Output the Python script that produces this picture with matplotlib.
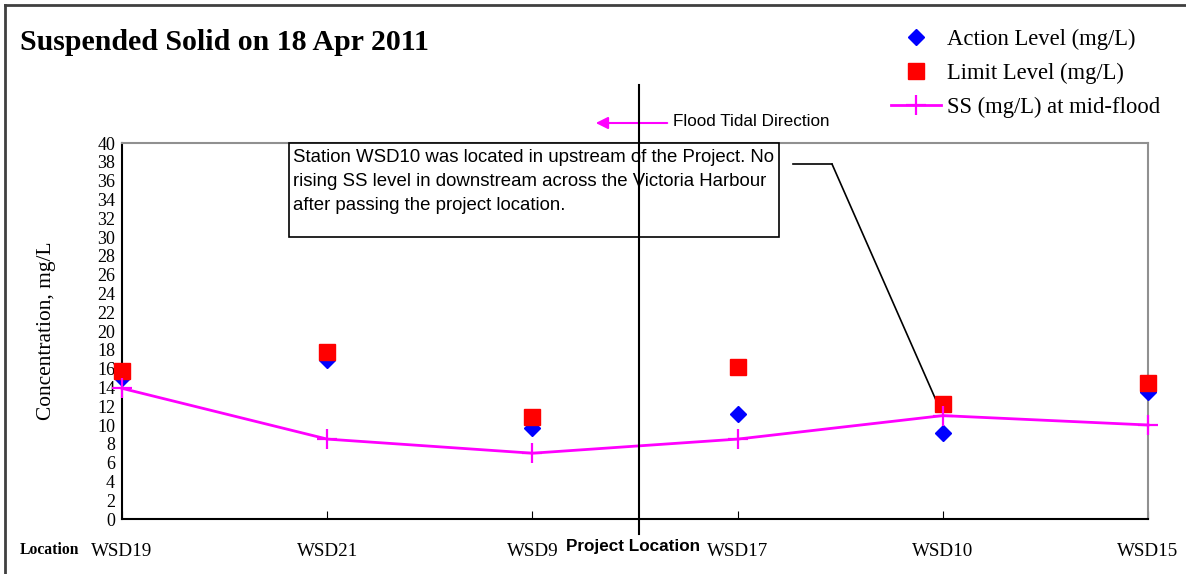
import matplotlib.pyplot as plt
from matplotlib.lines import Line2D
from matplotlib.patches import Rectangle, FancyArrowPatch
import numpy as np

# data
locations = ['WSD19', 'WSD21', 'WSD9', 'WSD17', 'WSD10', 'WSD15']
action_level = [15.0, 16.9, 9.7, 11.2, 9.1, 13.5]
limit_level = [15.7, 17.8, 10.9, 16.2, 12.2, 14.5]
ss_mid_flood = [13.9, 8.5, 7.0, 8.5, 11.0, 10.0]

W, H = 1186, 574
serif = 'Liberation Serif'
sans = 'Liberation Sans'


def fx(px):
    return px / W


def fy(py):
    return 1 - py / H


fig = plt.figure(figsize=(W / 100, H / 100), dpi=100)
ax = fig.add_axes([fx(122), fy(519), fx(1148) - fx(122), fy(143) - fy(519)])

x = np.arange(len(locations))

ax.plot(x, action_level, linestyle='none', marker='D', color='#0000ff', markersize=8, label='Action Level (mg/L)',
        zorder=3, clip_on=False)
ax.plot(x, limit_level, linestyle='none', marker='s', color='#ff0000', markersize=11, label='Limit Level (mg/L)',
        zorder=4, clip_on=False)
ax.plot(x, ss_mid_flood, color='#ff00ff', linewidth=2, marker='+', markersize=14, markeredgewidth=1.6,
        label='SS (mg/L) at mid-flood', zorder=5, clip_on=False)

ax.set_xlim(0, len(locations) - 1)
ax.set_ylim(0, 40)
ax.set_yticks(np.arange(0, 41, 2))
ax.set_xticks(x)
ax.set_xticklabels(locations, fontfamily=serif, fontsize=13.7)
for lbl in ax.get_yticklabels():
    lbl.set_fontfamily(serif)
    lbl.set_fontsize(13)
ax.tick_params(axis='y', length=0, pad=5)
ax.tick_params(axis='x', direction='in', length=6, pad=17, width=0.8)
ax.set_ylabel('Concentration, mg/L', fontfamily=serif, fontsize=15.4)
ax.yaxis.set_label_coords((56 - 122) / (1148 - 122), 0.5)

ax.spines['left'].set_linewidth(1.5)
ax.spines['bottom'].set_linewidth(1.5)
ax.spines['top'].set_color('#909090')
ax.spines['right'].set_color('#909090')
ax.spines['top'].set_linewidth(1.5)
ax.spines['right'].set_linewidth(1.5)

# title and labels
fig.text(fx(20), fy(43), 'Suspended Solid on 18 Apr 2011', fontfamily=serif, fontweight='bold',
         fontsize=21.5, va='center', ha='left')
fig.text(fx(20), fy(550), 'Location', fontfamily=serif, fontweight='bold', fontsize=11.3, va='center', ha='left')
fig.text(fx(633), fy(547), 'Project Location', fontfamily=sans, fontweight='bold', fontsize=12.3,
         va='center', ha='center')

# legend
leg = fig.legend(loc='upper right', bbox_to_anchor=(fx(1174), fy(15)), frameon=False,
                 prop={'family': serif, 'size': 16.3}, handlelength=2.2, labelspacing=0.58, handletextpad=0.3,
                 borderaxespad=0.2)

# outer border (top and left)
fig.add_artist(Line2D([fx(5), fx(5)], [fy(5), fy(574)], transform=fig.transFigure, color='#404040', lw=2))
fig.add_artist(Line2D([fx(5), fx(1186)], [fy(5), fy(5)], transform=fig.transFigure, color='#404040', lw=2))

# annotation box
box = Rectangle((fx(289), fy(237)), fx(779) - fx(289), fy(143) - fy(237), transform=fig.transFigure,
                facecolor='white', edgecolor='black', lw=1.2, zorder=6)
fig.add_artist(box)
fig.text(fx(293), fy(149), 'Station WSD10 was located in upstream of the Project. No\n'
         'rising SS level in downstream across the Victoria Harbour\n'
         'after passing the project location.', fontfamily=sans, fontsize=13.4, va='top', ha='left',
         linespacing=1.55, zorder=7)

# connector to WSD10
fig.add_artist(Line2D([fx(793), fx(832)], [fy(164), fy(164)], transform=fig.transFigure, color='black', lw=1.2))
ax.annotate('', xy=(4, ss_mid_flood[4]), xycoords='data', xytext=(fx(832), fy(164)),
            textcoords='figure fraction',
            arrowprops=dict(arrowstyle='-', color='black', lw=1.2, shrinkA=0, shrinkB=6))

# project location line
fig.add_artist(Line2D([fx(639), fx(639)], [fy(85), fy(534)], transform=fig.transFigure, color='black',
                      lw=1.5, zorder=8))

# flood tidal direction
fig.add_artist(FancyArrowPatch((fx(670), fy(123)), (fx(593), fy(123)), transform=fig.transFigure,
                               arrowstyle='-|>', mutation_scale=18, color='#ff00ff', lw=1.5))
fig.text(fx(673), fy(122), 'Flood Tidal Direction', fontfamily=sans, fontsize=12.3, va='center', ha='left')

plt.savefig('out.png', dpi=100)
